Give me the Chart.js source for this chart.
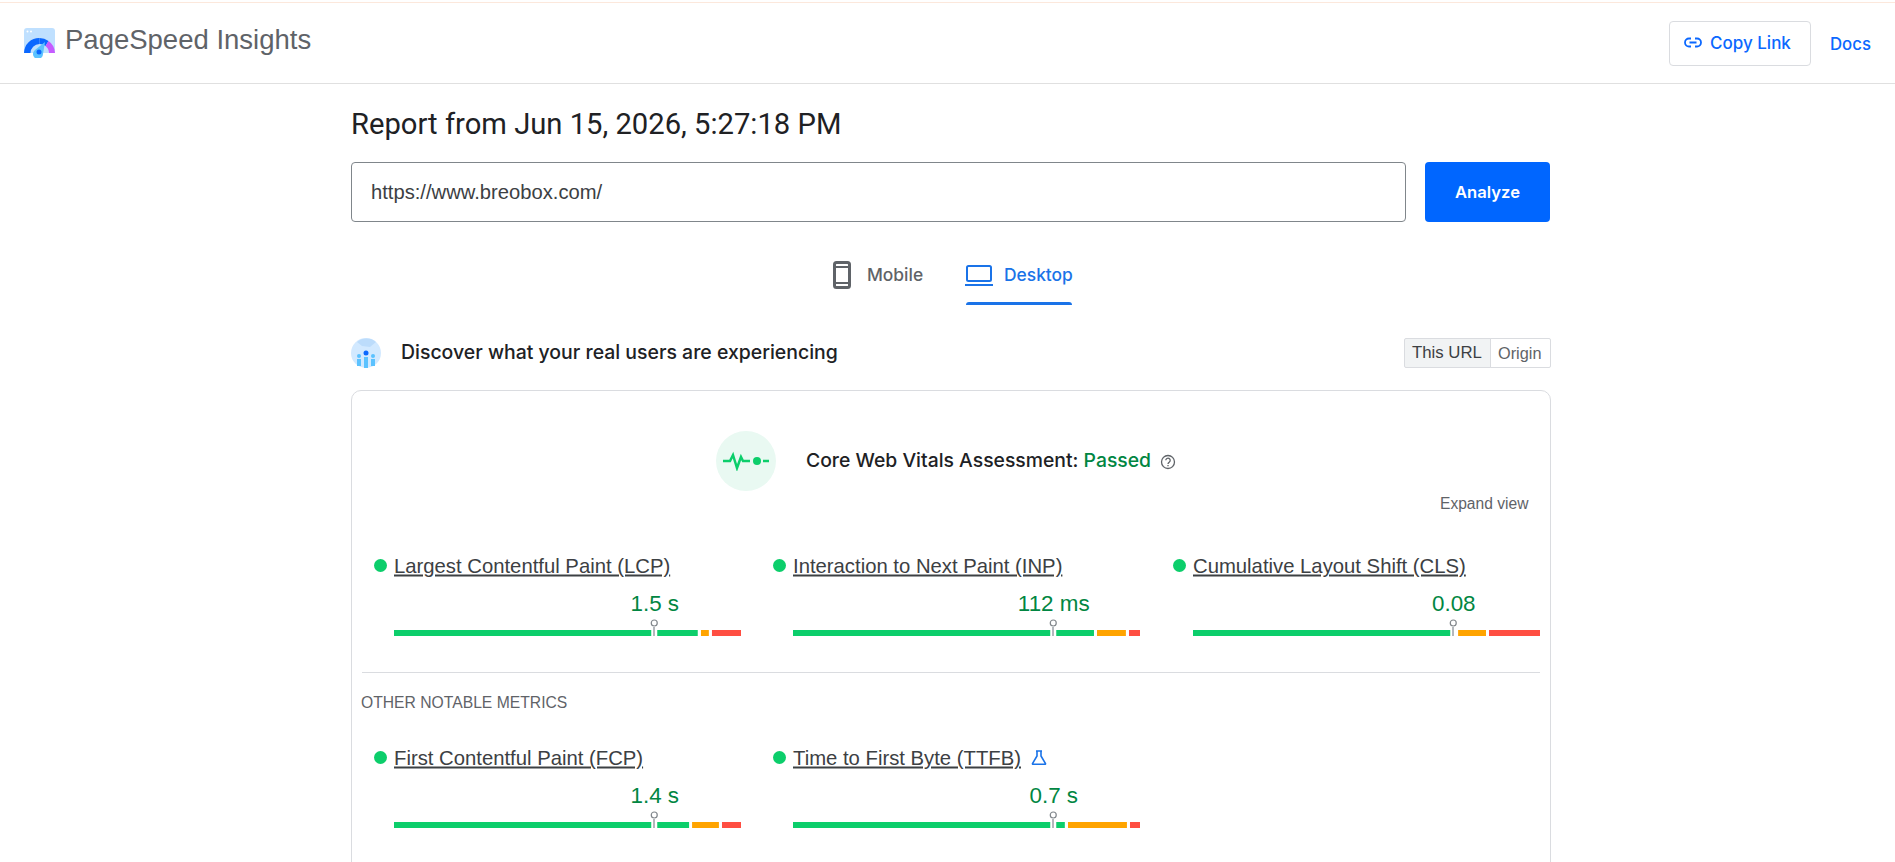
<!DOCTYPE html>
<html>
<head>
<meta charset="utf-8">
<title>PageSpeed Insights</title>
<script src="https://cdn.jsdelivr.net/npm/chart.js@4/dist/chart.umd.min.js"></script>
<style>
    html, body { margin: 0; padding: 0; background: #fff; }
    body { width: 1895px; height: 862px; overflow: hidden; position: relative; font-family: "Liberation Sans", Arial, sans-serif; }
    .abs { position: absolute; white-space: nowrap; }
    .box { position: absolute; box-sizing: border-box; }
    .mid { transform: translateY(-50%); }
    .gs { font-family: Inter, sans-serif; }
    .metric-name { font-size: 20.3px; color: #3c4043; text-decoration: underline; transform: translateY(-50%); }
    .metric-value { font-size: 22.4px; color: #018642; transform: translate(-50%, -50%); }
    .metric-dot { width: 13px; height: 13px; border-radius: 50%; background: #0cce6b; }
    canvas { position: absolute; }
</style>
</head>
<body>

<!-- header -->
<div class="box" style="left:0;top:2px;width:1895px;height:1px;background:#fce8dc"></div>
<div class="box" style="left:0;top:83px;width:1895px;height:1px;background:#e0e0e0"></div>
<svg class="abs" style="left:24px;top:28px" width="32" height="30" viewBox="0 0 32 30">
    <path d="M0 3 a3 3 0 0 1 3-3 h25 a3 3 0 0 1 3 3 v22 H0z" fill="#bfe0ff"/>
    <circle cx="3.5" cy="3.5" r="1" fill="#fff"/><circle cx="7" cy="3.5" r="1" fill="#fff"/>
    <path d="M0 25 a15 15 0 0 1 15.500-15 v6 a9 9 0 0 0-9 9z" fill="#0b68ff"/>
    <path d="M15.500 10 a15 15 0 0 1 9 3 l-3 5 a9 9 0 0 0-6-2z" fill="#0b68ff"/>
    <path d="M24.500 13 a15 15 0 0 1 6.500 12 h-6 a9 9 0 0 0-3.500-7z" fill="#c65bff"/>
    <path d="M21 14 L19 26 a5 5 0 1 1-8-4z" fill="#5bc2ff"/>
    <circle cx="15" cy="24" r="2.500" fill="#0b68ff"/>
</svg>
<div class="abs mid" style="left:65px;top:40px;font-size:27.5px;color:#5f6368">PageSpeed Insights</div>
<div class="box" style="left:1669px;top:21px;width:142px;height:45px;border:1px solid #dadce0;border-radius:4px"></div>
<svg class="abs" style="left:1684px;top:36px" width="18" height="14" viewBox="0 0 18 14" fill="none" stroke="#0b68ff" stroke-width="1.800">
    <path d="M7 2.500 H5 a4 4 0 0 0 0 8 h2 M11 2.500 h2 a4 4 0 0 1 0 8 h-2 M5.500 6.500 h7"/>
</svg>
<div class="abs mid gs" style="left:1710px;top:43px;font-size:17px;font-weight:500;color:#0b68ff">Copy Link</div>
<div class="abs mid gs" style="left:1830px;top:44px;font-size:16.8px;font-weight:500;color:#0b68ff">Docs</div>

<!-- report and url -->
<div class="abs mid" style="left:351px;top:124px;font-family:Roboto,sans-serif;font-size:29.2px;color:#202124">Report from Jun 15, 2026, 5:27:18 PM</div>
<div class="box" style="left:351px;top:162px;width:1055px;height:60px;border:1px solid #80868b;border-radius:4px"></div>
<div class="abs mid" style="left:371px;top:192px;font-size:20.2px;color:#3c4043">https://www.breobox.com/</div>
<div class="box" style="left:1425px;top:162px;width:125px;height:60px;background:#0066ff;border-radius:4px"></div>
<div class="abs gs" style="left:1487.500px;top:192px;transform:translate(-50%,-50%);font-size:16.6px;font-weight:600;color:#fff">Analyze</div>

<!-- tabs -->
<svg class="abs" style="left:833px;top:261px" width="18" height="28" viewBox="0 0 18 28">
    <rect x="1.500" y="1.500" width="15" height="25" rx="2" fill="none" stroke="#5f6368" stroke-width="3"/>
    <rect x="1" y="5" width="16" height="2" fill="#5f6368"/><rect x="1" y="21" width="16" height="2" fill="#5f6368"/>
</svg>
<div class="abs mid gs" style="left:867px;top:274px;font-size:17.4px;font-weight:500;color:#5f6368">Mobile</div>
<svg class="abs" style="left:965px;top:265px" width="28" height="21" viewBox="0 0 28 21" fill="none" stroke="#1a73e8" stroke-width="2">
    <rect x="2" y="1" width="24" height="15" rx="1.500"/><path d="M0 20 h28"/>
</svg>
<div class="abs mid gs" style="left:1004px;top:274px;font-size:17.4px;font-weight:500;color:#1a73e8">Desktop</div>
<div class="box" style="left:966px;top:302px;width:106px;height:3px;background:#1a73e8;border-radius:3px 3px 0 0"></div>

<!-- field data heading -->
<svg class="abs" style="left:351px;top:338px" width="30" height="30" viewBox="0 0 30 30">
    <circle cx="15" cy="15" r="15" fill="#d2e9ff"/>
    <path d="M6 4 a15 15 0 0 1 19 0 l-6 5 l-8-1z" fill="#bcdcfb"/>
    <circle cx="15" cy="15" r="2.500" fill="#0b68ff"/>
    <rect x="13" y="19" width="4" height="11" fill="#5bc2ff"/>
    <circle cx="8" cy="18" r="2" fill="#5bc2ff"/><rect x="6" y="21" width="4" height="7" fill="#5bc2ff"/>
    <circle cx="22" cy="18" r="2" fill="#5bc2ff"/><rect x="20" y="21" width="4" height="7" fill="#5bc2ff"/>
</svg>
<div class="abs mid gs" style="left:401px;top:352px;font-size:19.45px;font-weight:500;color:#202124">Discover what your real users are experiencing</div>
<div class="box" style="left:1404px;top:338px;width:87px;height:30px;background:#f1f3f4;border:1px solid #dadce0;border-radius:2px 0 0 2px"></div>
<div class="box" style="left:1490px;top:338px;width:61px;height:30px;border:1px solid #dadce0;border-radius:0 2px 2px 0"></div>
<div class="abs mid" style="left:1412px;top:353px;font-size:16.8px;color:#3c4043">This URL</div>
<div class="abs mid" style="left:1498px;top:353px;font-size:16.3px;color:#5f6368">Origin</div>

<!-- card -->
<div class="box" style="left:351px;top:390px;width:1200px;height:520px;border:1px solid #dadce0;border-radius:10px"></div>
<div class="box" style="left:716px;top:431px;width:60px;height:60px;border-radius:50%;background:#e9f9f2"></div>
<svg class="abs" style="left:722px;top:451px" width="48" height="20" viewBox="0 0 48 20" fill="none" stroke="#0cce6b" stroke-width="2.500">
    <path d="M1 10 h7 l3-6 l4 13 l4-11 l2 4 h7"/><path d="M41 10 h6"/>
    <circle cx="35" cy="10" r="4" fill="#0cce6b" stroke="none"/>
</svg>
<div class="abs mid gs" style="left:806px;top:460px;font-size:19.35px;font-weight:500;color:#202124">Core Web Vitals Assessment: <span style="color:#018642">Passed</span></div>
<svg class="abs" style="left:1160px;top:454px" width="16" height="16" viewBox="0 0 16 16" fill="none" stroke="#5f6368" stroke-width="1.300">
    <circle cx="8" cy="8" r="6.500"/>
    <path d="M5.800 6.300 a2.200 2.200 0 1 1 3.500 1.800 c-.8.500-1.300 1-1.300 2"/><path d="M8 11 v1.300"/>
</svg>
<div class="abs mid" style="left:1440px;top:504px;font-size:15.6px;color:#5f6368">Expand view</div>
<div class="box" style="left:362px;top:672px;width:1178px;height:1px;background:#dadce0"></div>
<div class="abs mid" style="left:361px;top:703px;font-size:15.7px;color:#5f6368">OTHER NOTABLE METRICS</div>
<svg class="abs" style="left:1031px;top:750px" width="16" height="15" viewBox="0 0 16 15" fill="none" stroke="#1a73e8" stroke-width="1.600">
    <path d="M5 1 h6 M6 1 v5 L1.500 13.500 a.5 .5 0 0 0 .5 .7 h12 a.5 .5 0 0 0 .5-.7 L10 6 V1"/>
</svg>

<script>
// Distribution bars, share of page loads in percent
const metricNames = ['Largest Contentful Paint (LCP)', 'Interaction to Next Paint (INP)', 'Cumulative Layout Shift (CLS)', 'First Contentful Paint (FCP)', 'Time to First Byte (TTFB)'];
const metricValues = ['1.5 s', '112 ms', '0.08', '1.4 s', '0.7 s'];
const goodShare = [88.4, 87.6, 76.4, 85.9, 79.2];
const needsShare = [3.2, 9.2, 8.9, 8.6, 17.9];
const poorShare = [8.4, 3.2, 14.7, 5.5, 2.9];
const p75Share = [75, 75, 75, 75, 75];

// Where each metric block sits on the page
const slots = [
    { dotX: 374, barX: 394, textY: 566, valueY: 604, barY: 616 },
    { dotX: 773, barX: 793, textY: 566, valueY: 604, barY: 616 },
    { dotX: 1173, barX: 1193, textY: 566, valueY: 604, barY: 616 },
    { dotX: 374, barX: 394, textY: 758, valueY: 796, barY: 808 },
    { dotX: 773, barX: 793, textY: 758, valueY: 796, barY: 808 }
];
const barWidth = 347;

// Draws the p75 pin on top of the bar
const pinPlugin = {
    id: 'pin',
    afterDatasetsDraw(chart, args, opts) {
        const ctx = chart.ctx;
        const area = chart.chartArea;
        const x = chart.scales.x.getPixelForValue(opts.value);
        ctx.save();
        ctx.fillStyle = '#fff';
        ctx.fillRect(x - 3, area.top, 6, area.bottom - area.top);
        ctx.fillStyle = '#9aa0a6';
        ctx.fillRect(x - 1, area.top - 3, 1.5, area.bottom - area.top + 3);
        ctx.beginPath();
        ctx.arc(x, area.top - 7, 3, 0, Math.PI * 2);
        ctx.fillStyle = '#fff';
        ctx.fill();
        ctx.lineWidth = 1.2;
        ctx.strokeStyle = '#80868b';
        ctx.stroke();
        ctx.restore();
    }
};

function addText(cls, text, x, y) {
    const el = document.createElement('div');
    el.className = 'abs ' + cls;
    el.textContent = text;
    el.style.left = x + 'px';
    el.style.top = y + 'px';
    document.body.appendChild(el);
}

function barDataset(value, color, gap) {
    return {
        data: [value],
        backgroundColor: color,
        borderColor: '#fff',
        borderWidth: { right: gap },
        borderSkipped: false,
        inflateAmount: 0,
        barPercentage: 1,
        categoryPercentage: 1
    };
}

function drawMetric(i) {
    const slot = slots[i];
    const dot = document.createElement('div');
    dot.className = 'abs metric-dot';
    dot.style.left = slot.dotX + 'px';
    dot.style.top = (slot.textY - 7) + 'px';
    document.body.appendChild(dot);
    addText('metric-name', metricNames[i], slot.barX, slot.textY);
    addText('metric-value', metricValues[i], slot.barX + 0.5 + barWidth * p75Share[i] / 100, slot.valueY);

    const canvas = document.createElement('canvas');
    canvas.width = barWidth;
    canvas.height = 24;
    canvas.style.left = slot.barX + 'px';
    canvas.style.top = slot.barY + 'px';
    document.body.appendChild(canvas);

    new Chart(canvas.getContext('2d'), {
        type: 'bar',
        data: {
            labels: [metricNames[i]],
            datasets: [
                barDataset(goodShare[i], '#0cce6b', 3),
                barDataset(needsShare[i], '#ffa400', 3),
                barDataset(poorShare[i], '#ff4e42', 0)
            ]
        },
        options: {
            indexAxis: 'y',
            responsive: false,
            animation: false,
            layout: { padding: { top: 14, bottom: 4, left: 0, right: 0 } },
            scales: {
                x: { stacked: true, display: false, min: 0, max: 100 },
                y: { stacked: true, display: false }
            },
            plugins: {
                legend: { display: false },
                tooltip: { enabled: false },
                pin: { value: p75Share[i] }
            }
        },
        plugins: [pinPlugin]
    });
}

metricNames.forEach((name, i) => drawMetric(i));
</script>
</body>
</html>
